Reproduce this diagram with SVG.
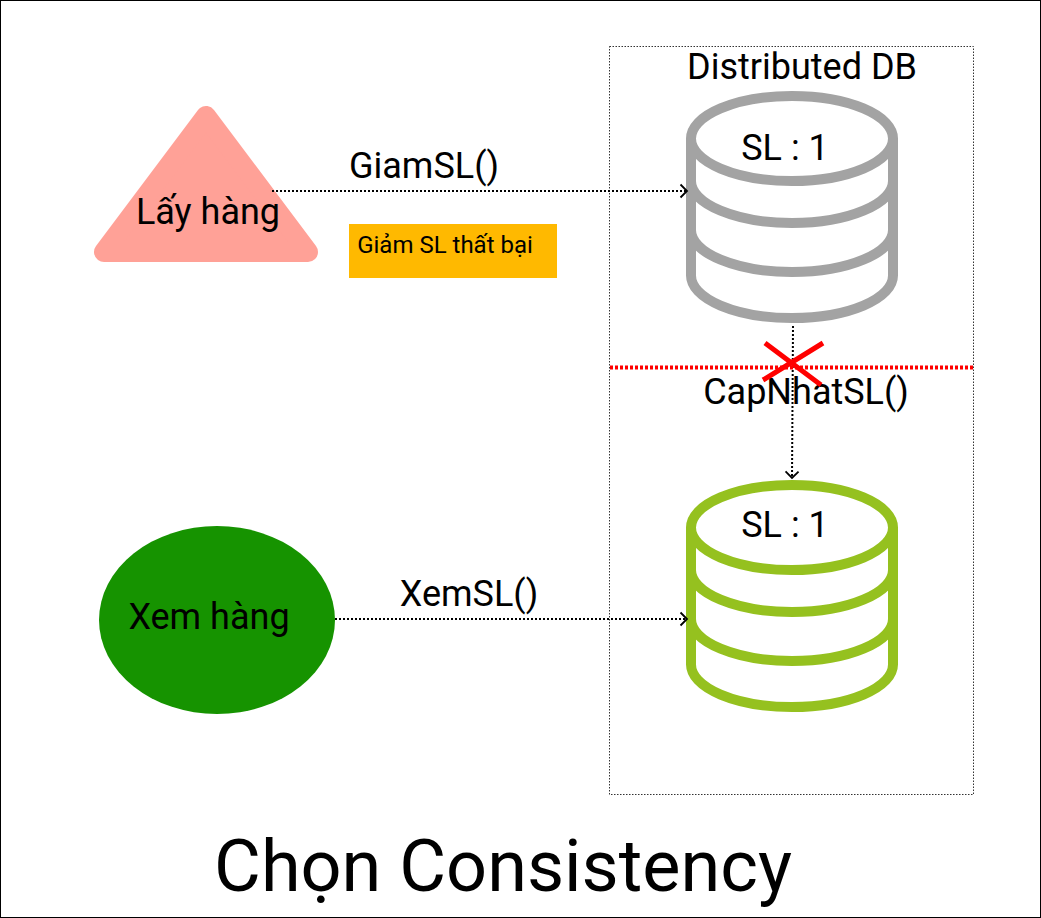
<svg xmlns="http://www.w3.org/2000/svg" width="1041" height="918" viewBox="0 0 1041 918">
<style>
text{font-family:Roboto,"Liberation Sans",sans-serif;fill:#000;text-anchor:middle}
.l{font-size:36px}
.c{fill:none;stroke:#000;stroke-width:2;stroke-dasharray:2 2}
.db{fill:none;stroke-width:10}
</style>
<defs>
<marker id="arrow" markerUnits="userSpaceOnUse" markerWidth="14" markerHeight="16" refX="12" refY="8" orient="auto"><path d="M5.500 1.500L12 8L5.500 14.500" fill="none" stroke="#000" stroke-width="1.800"/></marker>
<g id="cyl"><path class="db" d="M691 138.500A101 42.500 0 0 1 893 138.500A101 42.500 0 0 1 691 138.500ZM691 138.500V275.500A101 42.500 0 0 0 893 275.500V138.500M691 181A101 42 0 0 0 893 181M691 230A101 42 0 0 0 893 230"/></g>
</defs>
<rect x="0.500" y="0.500" width="1040" height="917" fill="#fff" stroke="#000"/>
<g id="frame"><rect x="609.500" y="46.500" width="364" height="748" fill="none" stroke="#333" stroke-dasharray="1.500 1.500"/><text class="l" x="802" y="79">Distributed DB</text></g>
<g id="lay-hang"><path d="M206 116L104 252H308Z" fill="#ffa197" stroke="#ffa197" stroke-width="20" stroke-linejoin="round"/><text class="l" x="208" y="224">Lấy hàng</text></g>
<g id="xem-hang"><ellipse cx="217" cy="620" rx="118" ry="94" fill="#169300"/><text class="l" x="209" y="629">Xem hàng</text></g>
<g id="db-main" stroke="#a3a3a3"><use href="#cyl"/><text class="l" stroke="none" x="785" y="160">SL : 1</text></g>
<g id="db-replica" stroke="#95c11f"><use href="#cyl" y="389"/><text class="l" stroke="none" x="785" y="537">SL : 1</text></g>
<g id="note"><rect x="349" y="224" width="208" height="54" fill="#ffb900"/><text x="445" y="253" font-size="24">Giảm SL thất bại</text></g>
<g id="connectors">
<path class="c" d="M272 191H687" marker-end="url(#arrow)"/>
<path class="c" d="M335 619H687" marker-end="url(#arrow)"/>
<path class="c" d="M793 326L792 478" marker-end="url(#arrow)"/>
</g>
<g id="labels"><text class="l" x="424" y="178">GiamSL()</text><text class="l" x="469" y="606">XemSL()</text><text class="l" x="806" y="404">CapNhatSL()</text></g>
<g id="partition" fill="none" stroke="#f00"><path d="M610 367.500H974" stroke-width="4" stroke-dasharray="3 2"/><path d="M765 343L821 385M823 343L763 380" stroke-width="5"/></g>
<text id="title" x="503" y="891" font-size="72">Chọn Consistency</text>
</svg>
